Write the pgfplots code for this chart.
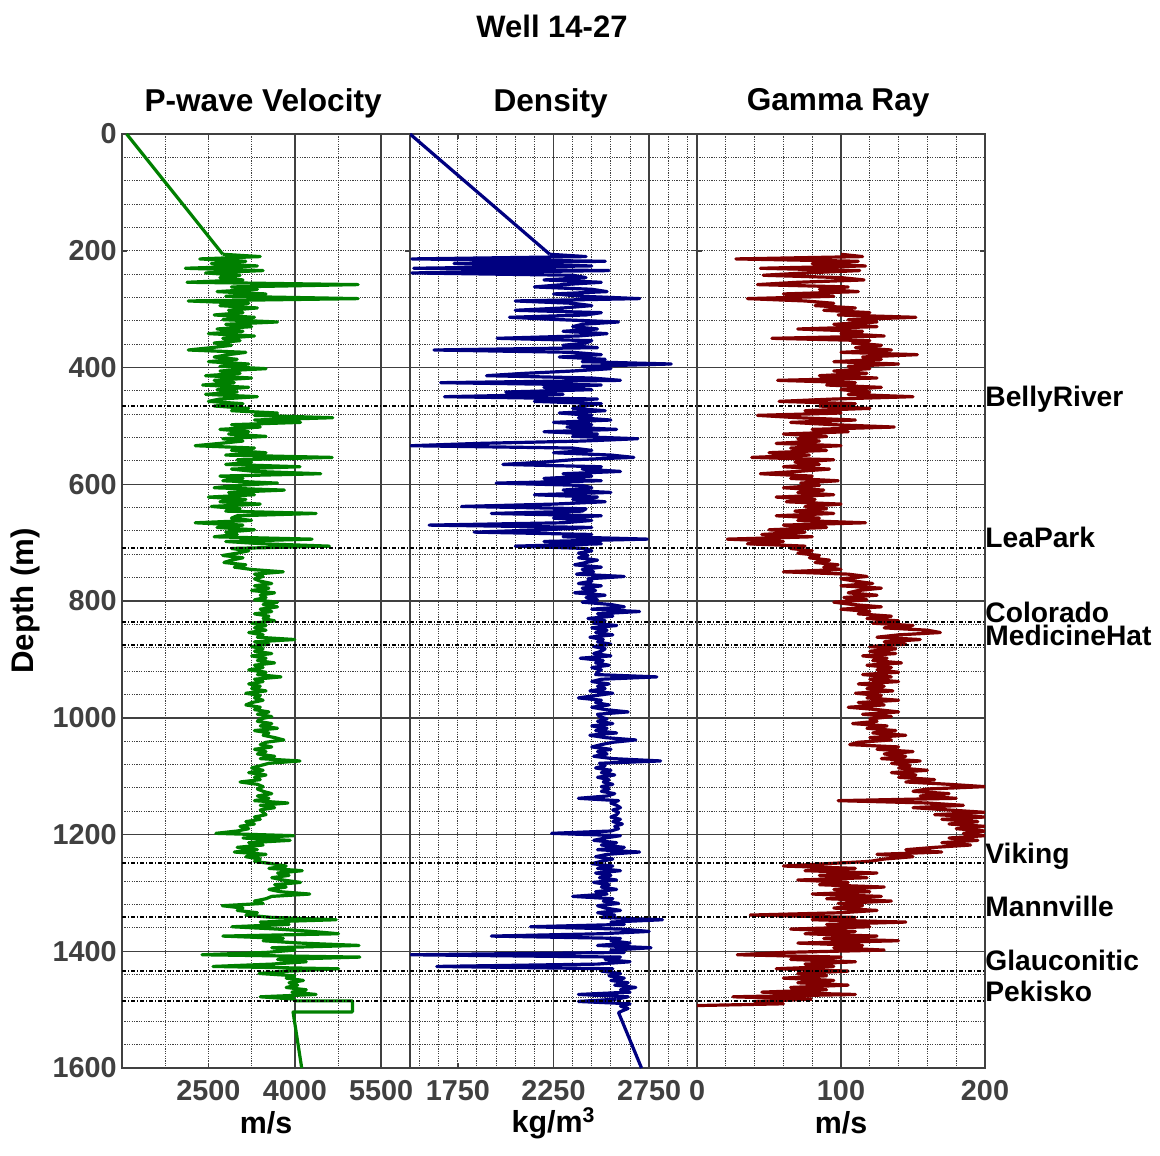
\documentclass[border=0pt]{standalone}
\usepackage{pgfplots}
\pgfplotsset{compat=1.18}
\usepackage{pgfplotstable}
\usepackage{fontspec}
\setmainfont{Liberation Sans}

\definecolor{gridgray}{HTML}{404040}
\definecolor{ticktext}{HTML}{404040}
\definecolor{vpgreen}{RGB}{0,128,0}
\definecolor{rhoblue}{RGB}{0,0,128}
\definecolor{grred}{RGB}{128,0,0}

% depth (m), P-wave velocity (m/s), density (kg/m^3), gamma ray
\pgfplotstableread{
depth vp rho gr
206 2750 2230 100
210 3400 2420 115
214 2350 1510 27
218 3150 2520 112
222 2550 1730 80
226 3350 2450 117
230 2100 1520 44
234 3450 2540 113
238 2450 1510 75
242 3050 2350 46
246 2700 2420 100
250 3100 2200 116
254 2130 2500 70
258 5100 2300 42
262 2900 2150 105
266 3350 2450 85
270 2650 2530 112
274 3500 2250 60
278 2800 2400 95
282 5100 2700 35
286 2150 2050 75
290 3200 2350 95
294 2700 2450 82
298 3350 2300 110
302 2850 2050 88
306 3100 2500 120
310 2600 2420 98
314 3300 2020 152
318 2750 2280 105
322 3700 2590 125
326 2800 2400 95
330 3250 2350 125
334 2650 2480 70
338 3100 2300 115
342 2500 2530 100
346 3300 2380 130
350 2750 1955 52
354 3050 2450 120
358 2600 2420 108
362 2900 2300 128
366 2550 2480 110
370 2150 1625 135
374 3150 2350 100
378 2850 2500 153
382 2600 2280 115
386 3000 2520 128
390 2500 2400 95
394 3200 2865 140
398 2700 2400 105
402 3500 2550 120
406 2700 2350 95
410 3050 2100 118
414 2450 1900 85
418 3250 2450 125
422 2600 2600 56
426 2950 1660 110
430 2400 2500 90
434 3200 2200 128
438 2650 2450 100
442 3000 2000 120
446 2450 2300 105
450 3350 1680 150
454 2700 2480 95
458 2500 2150 57
462 3100 2500 110
466 2600 2400 85
470 3200 2350 120
474 2900 2520 75
478 3700 2280 100
482 3300 2450 42
486 4660 2380 70
490 3300 2550 110
494 4100 2250 65
498 2900 2450 95
502 3400 2320 137
506 2700 2580 80
510 3200 2200 105
514 2850 2480 60
518 3500 2350 90
522 2750 2690 70
526 3100 2400 85
530 2700 1860 55
534 2270 1505 100
538 3300 2350 65
542 2900 2450 90
546 3500 2250 50
550 2800 2550 78
554 4650 2670 38
558 3000 2350 95
562 3250 2200 68
566 2800 1985 85
570 4090 2500 60
574 2900 2400 92
578 3300 2600 70
582 4450 2300 44
586 2700 2450 80
590 3100 2200 65
594 2750 2500 98
598 3700 1950 72
602 3000 2400 85
606 2600 2450 60
610 3820 2300 88
614 2850 2550 70
618 3300 2150 95
622 2500 2480 55
626 3150 2350 82
630 2700 2520 62
634 3400 2250 100
638 2550 1770 75
642 3050 2420 90
646 2800 2400 68
650 4370 1925 95
654 3000 2500 55
658 2900 2250 85
662 3250 2450 70
666 2270 2300 117
670 3100 1600 60
674 2650 2450 90
678 3300 2200 50
682 2800 1835 75
686 3000 2450 45
690 2600 2300 80
694 4300 2740 21
698 2800 2200 60
702 3450 2500 35
706 4600 2050 75
710 2900 2420 65
714 3200 2450 80
718 3000 2380 70
722 2750 2430 85
726 3100 2380 78
730 2900 2480 92
734 2770 2420 82
738 3150 2360 98
742 2950 2500 88
746 3250 2400 100
750 3800 2460 60
754 3300 2370 105
758 3450 2620 118
762 3300 2430 100
766 3400 2450 110
770 3600 2380 122
774 3300 2500 100
778 3550 2400 128
782 3250 2470 112
786 3650 2360 105
790 3400 2520 125
794 3500 2420 102
798 3300 2480 118
802 3700 2400 95
806 3450 2550 108
810 3700 2620 128
814 3400 2450 100
818 3600 2700 120
822 3300 2480 112
826 3550 2560 135
830 3450 2430 118
834 3650 2520 140
838 3250 2460 122
842 3500 2580 150
846 3300 2450 130
850 3500 2530 160
854 3200 2470 169
858 3450 2560 140
862 3350 2440 125
866 4000 2510 155
870 3300 2480 130
874 3550 2550 145
878 3250 2460 120
882 3450 2520 138
886 3300 2500 120
890 3600 2460 138
894 3250 2550 115
898 3500 2390 132
902 3350 2510 122
906 3650 2470 142
910 3300 2540 118
914 3450 2450 135
918 3200 2500 125
922 3500 2480 140
926 3350 2470 115
930 3760 2790 135
934 3300 2500 120
938 3450 2450 140
942 3200 2540 112
946 3400 2480 130
950 3250 2520 118
954 3500 2440 136
958 3150 2560 110
962 3400 2470 128
966 3300 2380 118
970 3450 2500 140
974 3250 2470 112
978 3150 2540 130
982 3400 2450 105
986 3300 2520 125
990 3550 2640 140
994 3350 2480 115
998 3600 2490 135
1002 3400 2530 120
1006 3350 2480 125
1010 3600 2560 108
1014 3400 2450 132
1018 3700 2530 118
1022 3300 2470 138
1026 3550 2580 122
1030 3450 2440 145
1034 3650 2520 120
1038 3810 2680 135
1042 3500 2560 112
1046 3400 2500 106
1050 3600 2450 140
1054 3300 2550 125
1058 3500 2480 150
1062 3350 2530 130
1066 3650 2460 145
1070 3400 2560 128
1074 4090 2810 155
1078 3550 2490 135
1082 3400 2520 148
1086 3250 2470 140
1090 3450 2550 160
1094 3200 2500 135
1098 3500 2570 152
1102 3300 2480 140
1106 3400 2540 165
1110 3050 2510 145
1114 3350 2560 175
1118 3450 2500 200
1122 3350 2540 160
1126 3450 2500 150
1130 3600 2570 175
1134 3350 2530 155
1138 3550 2380 180
1142 3300 2590 98
1146 3880 2550 160
1150 3400 2580 185
1154 3650 2600 150
1158 3400 2560 175
1162 3450 2590 200
1166 3500 2580 165
1170 3300 2550 200
1174 3400 2600 170
1178 3150 2560 195
1182 3300 2610 175
1186 3050 2570 200
1190 3200 2590 180
1194 3000 2550 200
1198 2630 2240 185
1202 3980 2600 200
1206 3100 2520 175
1210 3920 2460 195
1214 3200 2580 170
1218 3450 2500 190
1222 3000 2620 165
1226 3350 2480 145
1230 2950 2700 170
1234 3500 2530 125
1238 3150 2470 150
1242 3400 2560 130
1246 3300 2500 120
1250 3600 2450 90
1254 3850 2560 60
1258 3550 2480 110
1262 4130 2600 75
1266 3700 2470 125
1270 3900 2550 85
1274 3600 2490 118
1278 3800 2580 70
1282 4100 2460 105
1286 3650 2540 85
1290 3850 2500 130
1294 3550 2580 95
1298 3750 2470 120
1302 4260 2530 80
1306 3600 2350 128
1310 3500 2560 90
1314 3300 2510 135
1318 3450 2590 98
1322 2740 2480 115
1326 3100 2520 95
1330 3000 2600 125
1334 3350 2480 100
1338 3150 2570 37
1342 3600 2500 110
1346 4720 2820 80
1350 3400 2550 145
1354 3900 2620 90
1358 2910 2130 120
1362 3700 2600 65
1366 4300 2750 110
1370 4760 2500 75
1374 2750 1925 125
1378 3800 2600 88
1382 3450 2550 140
1386 4100 2650 70
1390 5115 2480 115
1394 3600 2760 95
1398 4000 2550 130
1402 3500 2620 60
1406 2390 1505 28
1410 5130 2600 100
1414 3700 2520 65
1418 4200 2650 110
1422 3600 2480 75
1426 2580 1640 95
1430 4760 2560 55
1434 3900 2500 105
1438 3380 2600 70
1442 4000 2540 90
1446 3850 2620 60
1450 4150 2550 95
1454 3900 2640 70
1458 4050 2570 105
1462 3850 2680 65
1466 4200 2600 90
1470 3950 2650 45
1474 4370 2380 110
1478 3400 2640 25
1482 4000 2580 80
}\logdata

\pgfplotsset{
  logpanel/.style={
    scale only axis, height=467pt,
    ymin=0, ymax=1600, y dir=reverse,
    ytick={0,200,...,1600},
    minor ytick={40,80,...,1560},
    extra y ticks={400,600,800,1000,1200,1400},
    extra y tick labels={},
    extra y tick style={grid=major, major grid style={solid, gridgray, line width=0.75pt}},
    grid=both,
    major grid style={gridgray, line width=0.5pt, dash pattern=on 0.6pt off 0.6pt},
    minor grid style={gridgray, line width=0.5pt, dash pattern=on 0.6pt off 0.6pt},
    tick align=inside, major tick length=2.5pt, minor tick length=0pt,
    tick style={gridgray, line width=0.75pt},
    axis line style={gridgray, line width=1pt},
    tick label style={font=\fontsize{14.4}{17}\selectfont\bfseries, text=ticktext},
    xticklabel style={inner sep=0pt, anchor=north, yshift=-5.8pt},
    yticklabel style={inner sep=0pt, anchor=east, xshift=-2.5pt},
    title style={font=\fontsize{15.8}{19}\selectfont\bfseries, at={(axis description cs:0.49,1.0204)}, anchor=center, yshift=0pt},
    xlabel style={font=\fontsize{15.2}{18}\selectfont\bfseries, at={(axis description cs:0.5,-0.0589)}, anchor=center},
    clip=true,
  },
  logcurve/.style={line width=1.6pt, line join=round},
  formtop/.style={black, line width=1pt, dash pattern=on 2pt off 1pt on 0.5pt off 1pt},
}
\tikzset{
  formlabel/.style={anchor=base west, inner sep=0pt, font=\fontsize{14.1}{17}\selectfont\bfseries},
}

\begin{document}
\begin{tikzpicture}
\useasboundingbox (-61pt,-43.5pt) rectangle (519pt,534pt);

% P-wave velocity
\begin{axis}[logpanel, width=144pt, at={(0pt,0pt)}, anchor=south west,
  xmin=1000, xmax=6000,
  xtick={2500,4000,5500}, xticklabels={2500,4000,5500},
  minor xtick={1750,3250,4750},
  extra x ticks={4000,5500}, extra x tick labels={},
  extra x tick style={grid=major, major grid style={solid, gridgray, line width=0.75pt}},
  yticklabels={0,200,400,600,800,1000,1200,1400,1600},
  title={P-wave Velocity}, xlabel={m/s}, ylabel={Depth (m)},
  ylabel style={font=\fontsize{15.6}{18}\selectfont\bfseries, at={(axis description cs:-0.337,0.5)}, anchor=center}]
\addplot[vpgreen, logcurve] coordinates {(1080,0) (2750,206)};
\addplot[vpgreen, logcurve] table[x=vp, y=depth] {\logdata};
\addplot[vpgreen, logcurve] coordinates {(4000,1482) (4000,1485) (5000,1485) (5000,1504) (3970,1504) (4120,1600)};
\end{axis}

% Density
\begin{axis}[logpanel, width=143.5pt, at={(144pt,0pt)}, anchor=south west,
  xmin=1500, xmax=3000,
  xtick={1750,2250,2750}, xticklabels={1750,2250,2750},
  minor xtick={1550,1650,...,2950},
  extra x ticks={2250,2750}, extra x tick labels={},
  extra x tick style={grid=major, major grid style={solid, gridgray, line width=0.75pt}},
  yticklabels={},
  title={Density}, xlabel={kg/m\textsuperscript{3}}]
\addplot[rhoblue, logcurve] coordinates {(1500,0) (2230,206)};
\addplot[rhoblue, logcurve] table[x=rho, y=depth] {\logdata};
\addplot[rhoblue, logcurve] coordinates {(2580,1482) (2380,1486) (2650,1490) (2600,1494) (2640,1498) (2610,1502) (2590,1505) (2710,1600)};
\end{axis}

% Gamma ray
\begin{axis}[logpanel, width=144pt, at={(287.5pt,0pt)}, anchor=south west,
  xmin=0, xmax=200,
  xtick={0,100,200}, xticklabels={0,100,200},
  minor xtick={20,40,...,180},
  extra x ticks={100}, extra x tick labels={},
  extra x tick style={grid=major, major grid style={solid, gridgray, line width=0.75pt}},
  yticklabels={},
  title={Gamma Ray}, xlabel={m/s}]
\addplot[grred, logcurve] table[x=gr, y=depth] {\logdata};
\addplot[grred, logcurve] coordinates {(80,1482) (40,1486) (60,1490) (0,1493)};
\end{axis}

% Formation tops across all tracks
\begin{axis}[scale only axis, width=431.5pt, height=467pt, at={(0pt,0pt)}, anchor=south west,
  xmin=0, xmax=1, ymin=0, ymax=1600, y dir=reverse, hide axis, clip=false]
\addplot[formtop] coordinates {(0,466) (1,466)};
\addplot[formtop] coordinates {(0,709) (1,709)};
\addplot[formtop] coordinates {(0,836) (1,836)};
\addplot[formtop] coordinates {(0,876) (1,876)};
\addplot[formtop] coordinates {(0,1249) (1,1249)};
\addplot[formtop] coordinates {(0,1341) (1,1341)};
\addplot[formtop] coordinates {(0,1433) (1,1433)};
\addplot[formtop] coordinates {(0,1486) (1,1486)};
\node[formlabel] at (axis cs:1,466) {BellyRiver};
\node[formlabel] at (axis cs:1,709) {LeaPark};
\node[formlabel] at (axis cs:1,836) {Colorado};
\node[formlabel] at (axis cs:1,876) {MedicineHat};
\node[formlabel] at (axis cs:1,1249) {Viking};
\node[formlabel] at (axis cs:1,1341) {Mannville};
\node[formlabel] at (axis cs:1,1433) {Glauconitic};
\node[formlabel] at (axis cs:1,1486) {Pekisko};
\end{axis}

\node[font=\fontsize{15.5}{18}\selectfont\bfseries] at (215pt,521pt) {Well 14-27};
\end{tikzpicture}
\end{document}
